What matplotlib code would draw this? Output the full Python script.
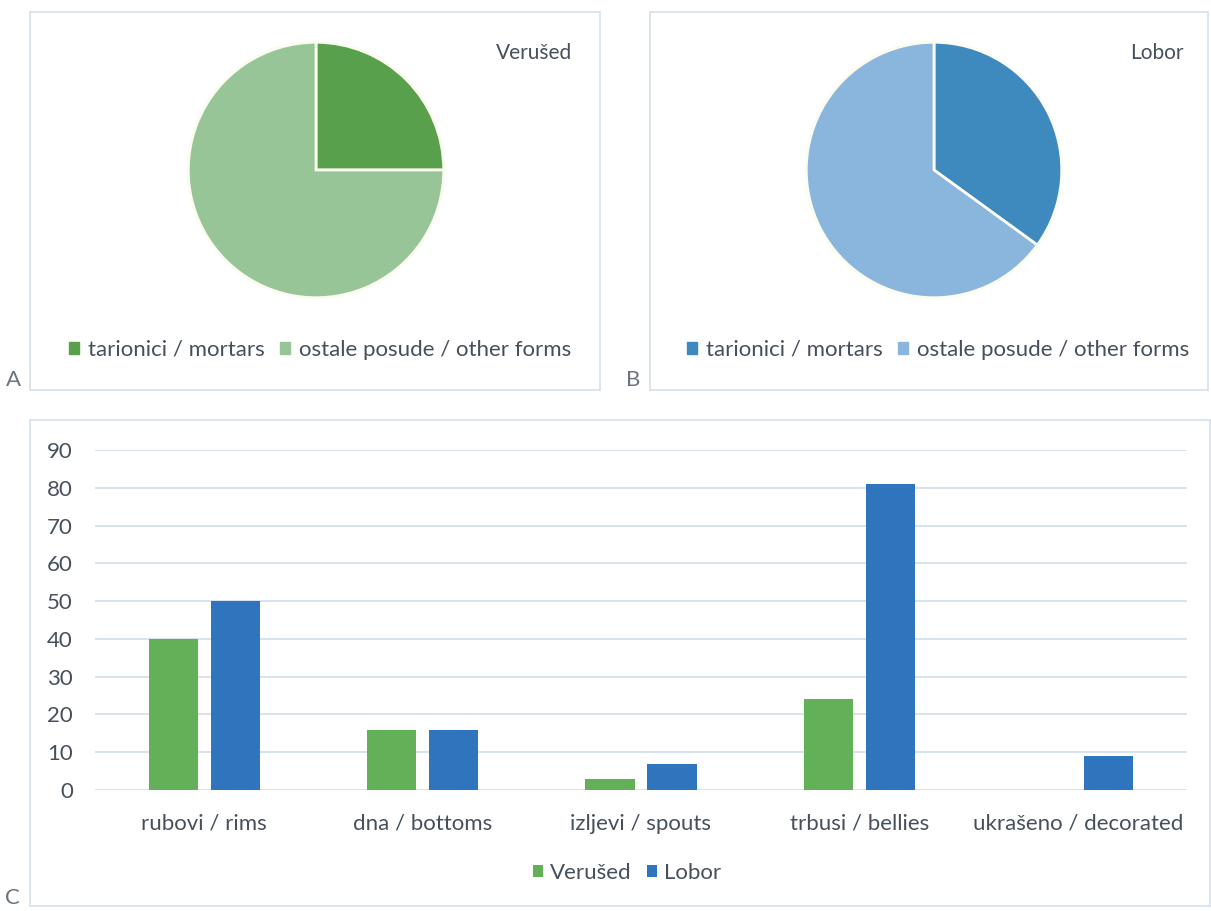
import matplotlib.pyplot as plt
from matplotlib.patches import Rectangle, Patch

plt.rcParams['font.family'] = ['Lato', 'DejaVu Sans']

# pie data (share of mortars vs other forms)
pie_labels = ["tarionici / mortars", "ostale posude / other forms"]
verused_pie = [25, 75]
lobor_pie = [35, 65]

# bar data
kategorije = ["rubovi / rims", "dna / bottoms", "izljevi / spouts",
              "trbusi / bellies", "ukrašeno / decorated"]
verused = [40, 16, 3, 24, 0]
lobor = [50, 16, 7, 81, 9]
yticks = [0, 10, 20, 30, 40, 50, 60, 70, 80, 90]

W, H = 1211, 911
txt = '#46505c'
frame_col = '#d5e0ea'

fig = plt.figure(figsize=(W / 100, H / 100), dpi=100)


def box(x0, y0, x1, y1):
    # pixel coords (top-left origin) -> figure fraction
    return [x0 / W, 1 - y1 / H, (x1 - x0) / W, (y1 - y0) / H]


def frame(x0, y0, x1, y1):
    l, b, w, h = box(x0, y0, x1, y1)
    fig.patches.append(Rectangle((l, b), w, h, transform=fig.transFigure,
                                 fill=False, edgecolor=frame_col, lw=1.2))


frame(30, 12, 600, 390)
frame(650, 12, 1208, 390)
frame(30, 420, 1210, 906)

# pie charts
pies = [
    (316, verused_pie, ['#58a04c', '#97c597'], "Verušed", 534, 320),
    (934, lobor_pie, ['#3e89be', '#8ab5dd'], "Lobor", 1157, 938),
]
for cx, vals, cols, name, tx, lx in pies:
    ax = fig.add_axes(box(cx - 129, 170 - 129, cx + 129, 170 + 129))
    ax.pie(vals, colors=cols, startangle=90, counterclock=False,
           wedgeprops=dict(edgecolor='#fbfbef', linewidth=2))
    ax.set_xlim(-1.01, 1.01)
    ax.set_ylim(-1.01, 1.01)
    fig.text(tx / W, 1 - 53 / H, name, ha='center', va='center',
             fontsize=15, color=txt)
    handles = [Patch(color=c) for c in cols]
    fig.legend(handles, pie_labels, loc='center', bbox_to_anchor=(lx / W, 1 - 350 / H),
               ncol=2, frameon=False, fontsize=16, labelcolor=txt,
               handlelength=0.45, handleheight=0.45, handletextpad=0.4,
               columnspacing=0.7)

# bar chart
axb = fig.add_axes(box(95, 450, 1187, 790))
x = range(len(kategorije))
w = 0.225
axb.bar([i - 0.142 for i in x], verused, w, color='#62b159', label='Verušed', zorder=3)
axb.bar([i + 0.142 for i in x], lobor, w, color='#2e75be', label='Lobor', zorder=3)
axb.set_xlim(-0.5, 4.5)
axb.set_ylim(0, 90)
axb.set_yticks(yticks)
axb.set_xticks(list(x))
axb.set_xticklabels(kategorije)
axb.grid(axis='y', color='#d3e1ed', lw=1.3, zorder=0)
for s in axb.spines.values():
    s.set_visible(False)
axb.tick_params(length=0, labelsize=16, labelcolor=txt)
axb.tick_params(axis='x', pad=17)
axb.tick_params(axis='y', pad=16)
axb.legend(loc='center', bbox_to_anchor=(627 / W, 1 - 873 / H),
           bbox_transform=fig.transFigure, ncol=2, frameon=False, fontsize=16,
           labelcolor=txt, handlelength=0.45, handleheight=0.45,
           handletextpad=0.3, columnspacing=0.7)

# panel letters
for letter, px, py in [("A", 13, 380), ("B", 633, 380), ("C", 12, 898)]:
    fig.text(px / W, 1 - py / H, letter, ha='center', va='center',
             fontsize=16, color='#6b7580')

fig.savefig('out.png', dpi=100, facecolor='white')
